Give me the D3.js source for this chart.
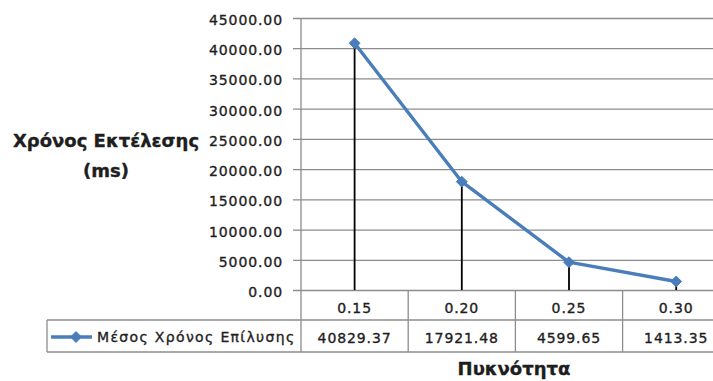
<!DOCTYPE html>
<html>
<head>
<meta charset="utf-8">
<script src="https://cdn.jsdelivr.net/npm/d3@7"></script>
<style>
  html, body { margin: 0; padding: 0; background: #fff; }
  svg { display: block; }
  text { font-family: "DejaVu Sans", sans-serif; fill: #1e1e1e; stroke: #1e1e1e; stroke-width: 0.35px; }
</style>
</head>
<body>
<svg id="chart" width="713" height="381"></svg>
<script>
// Mean solving time per density
const categories = ["0.15", "0.20", "0.25", "0.30"];
const values = [40829.37, 17921.48, 4599.65, 1413.35];
const yTicks = [0, 5000, 10000, 15000, 20000, 25000, 30000, 35000, 40000, 45000];
const seriesName = "Μέσος Χρόνος Επίλυσης";
const yTitle = ["Χρόνος Εκτέλεσης", "(ms)"];
const xTitle = "Πυκνότητα";

const svg = d3.select("#chart");
const plotLeft = 301, plotTop = 18, plotBottom = 290;
const band = 107.2;
const rowH = 31, tableLeft = 47;
const gridColor = "#8c8c8c";
const lineColor = "#4a7ebb";

const x = d3.scaleBand().domain(categories).range([plotLeft, plotLeft + band * categories.length]).padding(0);
const y = d3.scaleLinear().domain([0, 45000]).range([plotBottom, plotTop]);
const fmt = d3.format(".2f");

// Horizontal gridlines with short outside ticks
const yAxis = d3.axisLeft(y).tickValues(yTicks).tickFormat(fmt)
  .tickSize(-(713 - plotLeft + 40)).tickSizeOuter(0).tickPadding(0);
const gy = svg.append("g").attr("transform", `translate(${plotLeft},0)`).call(yAxis);
gy.select(".domain").remove();
gy.selectAll(".tick line").attr("x1", -8).attr("stroke", gridColor).attr("stroke-width", 1.3);
gy.selectAll(".tick text")
  .attr("x", -18).attr("y", 1.5).attr("dy", "0.36em")
  .style("font-size", "14px").style("letter-spacing", "0.9px")
  .attr("fill", "#1e1e1e");

// Vertical axis line runs down through the data table
svg.append("line").attr("x1", plotLeft).attr("x2", plotLeft).attr("y1", plotTop).attr("y2", plotBottom + 2 * rowH)
  .attr("stroke", gridColor).attr("stroke-width", 1.3);

// Data table grid
const tbl = svg.append("g").attr("stroke", gridColor).attr("stroke-width", 1.3);
tbl.append("line").attr("x1", tableLeft).attr("x2", 740).attr("y1", plotBottom + 30).attr("y2", plotBottom + 30);
tbl.append("line").attr("x1", tableLeft).attr("x2", 740).attr("y1", plotBottom + 2 * rowH).attr("y2", plotBottom + 2 * rowH);
tbl.append("line").attr("x1", tableLeft).attr("x2", tableLeft).attr("y1", plotBottom + 30).attr("y2", plotBottom + 2 * rowH);
tbl.selectAll("line.sep").data(categories.slice(1)).join("line").attr("class", "sep")
  .attr("x1", d => x(d)).attr("x2", d => x(d))
  .attr("y1", plotBottom).attr("y2", plotBottom + 2 * rowH);

// Category labels and values in the table
svg.append("g").selectAll("text").data(categories).join("text")
  .attr("x", d => x(d) + x.bandwidth() / 2).attr("y", plotBottom + 18).attr("dy", "0.36em")
  .attr("text-anchor", "middle").style("font-size", "14px").style("letter-spacing", "0.9px")
  .text(d => d);
svg.append("g").selectAll("text").data(values).join("text")
  .attr("x", (d, i) => x(categories[i]) + x.bandwidth() / 2).attr("y", plotBottom + 48).attr("dy", "0.36em")
  .attr("text-anchor", "middle").style("font-size", "14px").style("letter-spacing", "0.9px")
  .text(d => fmt(d));

// Drop lines from each point to the axis
const cx = d => x(d) + x.bandwidth() / 2;
svg.append("g").selectAll("line").data(values).join("line")
  .attr("x1", (d, i) => cx(categories[i])).attr("x2", (d, i) => cx(categories[i]))
  .attr("y1", d => y(d)).attr("y2", y(0))
  .attr("stroke", "#000").attr("stroke-width", 1.8);

// Series line and diamond markers
const line = d3.line().x((d, i) => cx(categories[i])).y(d => y(d));
svg.append("path").datum(values).attr("d", line)
  .attr("fill", "none").attr("stroke", lineColor).attr("stroke-width", 3.4).attr("stroke-linejoin", "round");
const diamond = d3.symbol().type(d3.symbolDiamond2).size(75);
svg.append("g").selectAll("path").data(values).join("path")
  .attr("transform", (d, i) => `translate(${cx(categories[i])},${y(d)})`)
  .attr("d", diamond).attr("fill", lineColor).attr("stroke", lineColor).attr("stroke-width", 1);

// Legend key in the table
const ly = plotBottom + 47;
svg.append("line").attr("x1", 51).attr("x2", 92).attr("y1", ly).attr("y2", ly)
  .attr("stroke", lineColor).attr("stroke-width", 3.4);
svg.append("path").attr("transform", `translate(76,${ly})`).attr("d", diamond)
  .attr("fill", lineColor).attr("stroke", lineColor);
svg.append("text").attr("x", 97).attr("y", ly).attr("dy", "0.36em")
  .style("font-size", "14px").style("letter-spacing", "1.35px").text(seriesName);

// Axis titles
const yt = svg.append("text").attr("text-anchor", "middle").style("font-size", "18px").style("font-weight", "bold");
yt.append("tspan").attr("x", 106).attr("y", 147).text(yTitle[0]);
yt.append("tspan").attr("x", 106).attr("y", 177).text(yTitle[1]);
svg.append("text").attr("x", 514).attr("y", 375).attr("text-anchor", "middle")
  .style("font-size", "18px").style("font-weight", "bold").text(xTitle);
</script>
</body>
</html>
